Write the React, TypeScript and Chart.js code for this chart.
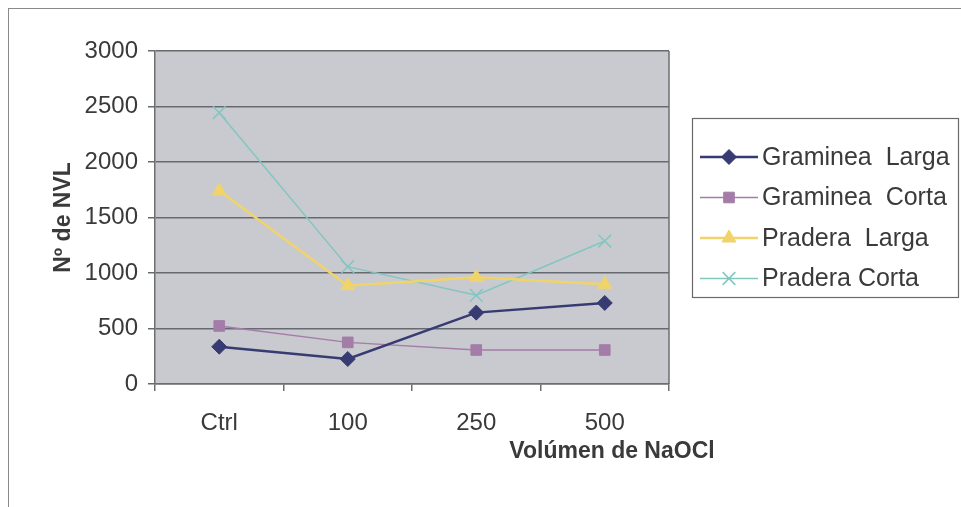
import React, { useEffect, useRef } from "react";
import { Chart, registerables } from "chart.js";
import { drawPoint } from "chart.js/helpers";

Chart.register(...registerables);

const categories = ["Ctrl", "100", "250", "500"];
const gramineaLarga = [336, 225, 643, 730];
const gramineaCorta = [523, 375, 306, 306];
const praderaLarga = [1740, 886, 961, 898];
const praderaCorta = [2444, 1057, 799, 1288];
const seriesLabels = ["Graminea  Larga", "Graminea  Corta", "Pradera  Larga", "Pradera Corta"];
const yTicks = [0, 500, 1000, 1500, 2000, 2500, 3000];

const FONT = "'Liberation Sans', Arial, sans-serif";
const TEXT = "#3a3a3a";

// Grey plot panel with a dark frame behind the series
const plotPanel = {
  id: "plotPanel",
  beforeDraw(chart: any) {
    const { ctx, chartArea: a } = chart;
    ctx.save();
    ctx.fillStyle = "#c8cad0";
    ctx.fillRect(a.left, a.top, a.right - a.left, a.bottom - a.top);
    // outer frame of the figure
    ctx.strokeStyle = "#8a8a8a";
    ctx.lineWidth = 1;
    ctx.strokeRect(8.5, 8.5, chart.width, chart.height);
    ctx.restore();
  },
  afterDraw(chart: any) {
    const { ctx, chartArea: a } = chart;
    ctx.save();
    ctx.strokeStyle = "#6e6e6e";
    ctx.lineWidth = 1.5;
    ctx.beginPath();
    ctx.moveTo(a.right, a.top);
    ctx.lineTo(a.right, a.bottom);
    ctx.stroke();
    // x-axis title
    ctx.fillStyle = TEXT;
    ctx.font = `bold 23px ${FONT}`;
    ctx.textAlign = "center";
    ctx.textBaseline = "middle";
    ctx.fillText("Volúmen de NaOCl", a.right - 57, a.bottom + 68);
    ctx.restore();
  },
};

// Boxed legend to the right of the plot
const boxLegend = {
  id: "boxLegend",
  afterDraw(chart: any) {
    const { ctx, chartArea: a } = chart;
    const x0 = a.right + 23;
    const y0 = 118;
    const w = 266;
    const h = 179;
    ctx.save();
    ctx.fillStyle = "#ffffff";
    ctx.fillRect(x0, y0, w, h);
    ctx.strokeStyle = "#6a6a6a";
    ctx.lineWidth = 1.2;
    ctx.strokeRect(x0 + 0.5, y0 + 0.5, w, h);
    chart.data.datasets.forEach((ds: any, i: number) => {
      const cy = y0 + 39 + i * 40.5;
      ctx.strokeStyle = ds.borderColor;
      ctx.lineWidth = ds.borderWidth;
      ctx.beginPath();
      ctx.moveTo(x0 + 8, cy);
      ctx.lineTo(x0 + 66, cy);
      ctx.stroke();
      ctx.fillStyle = ds.pointBackgroundColor;
      ctx.strokeStyle = ds.pointBorderColor;
      ctx.lineWidth = ds.pointBorderWidth;
      drawPoint(
        ctx,
        {
          pointStyle: ds.pointStyle,
          radius: ds.pointRadius,
          borderWidth: ds.pointBorderWidth,
          rotation: 0,
        } as any,
        x0 + 37,
        cy
      );
      ctx.fillStyle = TEXT;
      ctx.font = `25px ${FONT}`;
      ctx.textAlign = "left";
      ctx.textBaseline = "middle";
      ctx.fillText(ds.label, x0 + 70, cy + 1);
    });
    ctx.restore();
  },
};

export default function App() {
  const ref = useRef<HTMLCanvasElement>(null);

  useEffect(() => {
    document.body.style.margin = "0";
    document.body.style.background = "#ffffff";
    const canvas = ref.current!;
    const mk = (label: string, data: number[], color: string, width: number, style: string, r: number) => ({
      label,
      data,
      borderColor: color,
      backgroundColor: color,
      borderWidth: width,
      pointStyle: style,
      pointRadius: r,
      pointHoverRadius: r,
      pointBackgroundColor: color,
      pointBorderColor: color,
      pointBorderWidth: style === "crossRot" ? 1.5 : 1,
      tension: 0,
    });
    const chart = new Chart(canvas, {
      type: "line",
      data: {
        labels: categories,
        datasets: [
          mk(seriesLabels[0], gramineaLarga, "#373b72", 2.5, "rectRot", 7.5),
          mk(seriesLabels[1], gramineaCorta, "#a47ca8", 1.5, "rect", 7.5),
          mk(seriesLabels[2], praderaLarga, "#f0d46a", 2.5, "triangle", 8),
          mk(seriesLabels[3], praderaCorta, "#82c6c0", 1.5, "crossRot", 9),
        ],
      },
      options: {
        responsive: false,
        animation: false,
        events: [],
        layout: { padding: { left: 0, right: 292, top: 51, bottom: 0 } },
        plugins: {
          legend: { display: false },
          tooltip: { enabled: false },
          title: { display: false },
        },
        scales: {
          x: {
            offset: true,
            grid: {
              offset: true,
              drawOnChartArea: false,
              drawTicks: true,
              tickLength: 7,
              color: "#6e6e6e",
              lineWidth: 1.5,
            },
            border: { color: "#6e6e6e", width: 1.5 },
            ticks: {
              color: TEXT,
              font: { family: FONT, size: 24 },
              padding: 18,
              maxRotation: 0,
            },
            afterFit(scale: any) {
              scale.height = 123;
            },
          },
          y: {
            min: 0,
            max: 3000,
            afterBuildTicks(scale: any) {
              scale.ticks = yTicks.map((v) => ({ value: v }));
            },
            grid: {
              color: "#666a70",
              lineWidth: 1.5,
              tickLength: 7,
            },
            border: { color: "#6e6e6e", width: 1.5 },
            ticks: {
              color: TEXT,
              font: { family: FONT, size: 24 },
              padding: 10,
              callback: (v: any) => String(v),
            },
            title: {
              display: true,
              text: "Nº de NVL",
              color: TEXT,
              font: { family: FONT, size: 23, weight: "bold" },
              padding: { top: 50, bottom: 0 },
            },
            afterFit(scale: any) {
              scale.width = 155;
            },
          },
        },
      },
      plugins: [plotPanel, boxLegend],
    } as any);
    return () => chart.destroy();
  }, []);

  return <canvas ref={ref} width={961} height={507} style={{ display: "block" }} />;
}
